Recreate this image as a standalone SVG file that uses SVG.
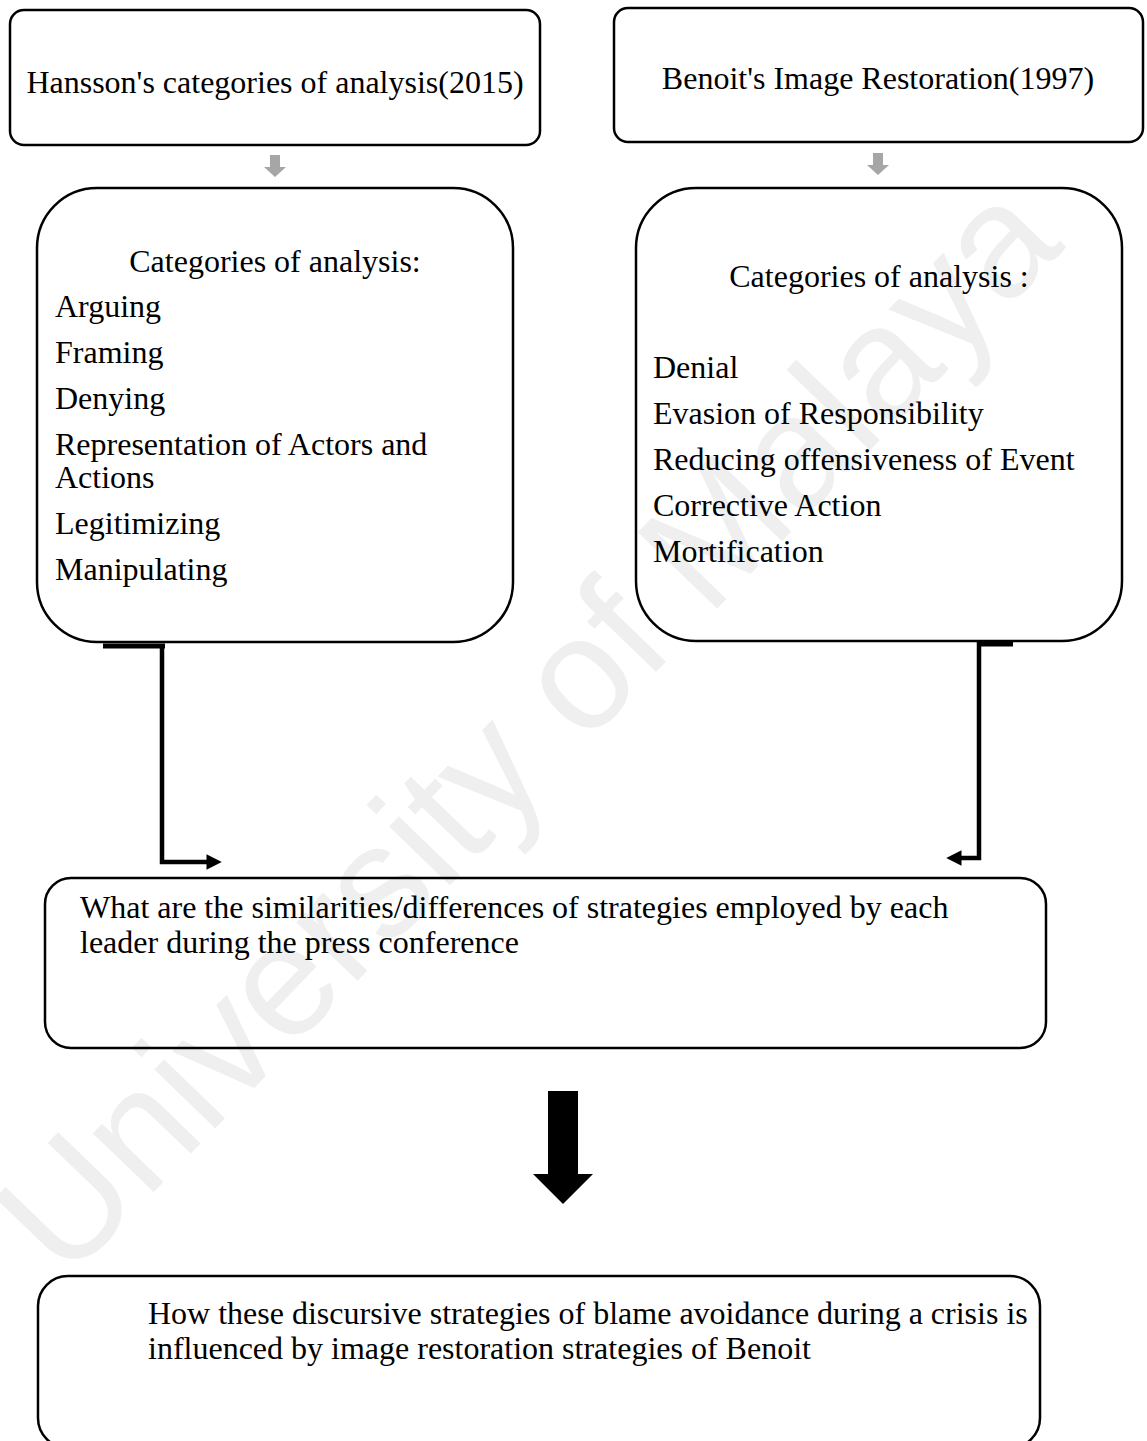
<svg xmlns="http://www.w3.org/2000/svg" width="1147" height="1441" viewBox="0 0 1147 1441">
<style>
.box{fill:none;stroke:#000;stroke-width:2.5}
.t{font-family:"Liberation Serif","Times New Roman",serif;font-size:32px;fill:#000}
.c{text-anchor:middle}
.conn{fill:none;stroke:#000;stroke-width:4.5}
.wm{font-family:"Liberation Sans",Arial,sans-serif;font-size:160px;fill:#efefef;text-anchor:middle}
</style>
<defs>
<marker id="ah" viewBox="0 0 10 10" refX="1" refY="5" markerWidth="3.4" markerHeight="3.4" orient="auto" markerUnits="strokeWidth">
<path d="M0,0 L10,5 L0,10 Z" fill="#000"/>
</marker>
</defs>
<rect width="1147" height="1441" fill="#fff"/>
<text class="wm" transform="translate(566,765) rotate(-46)">University of Malaya</text>

<g id="hansson">
<rect class="box" x="10" y="10" width="530" height="135" rx="14"/>
<text class="t c" x="275" y="93">Hansson's categories of analysis(2015)</text>
</g>
<g id="benoit">
<rect class="box" x="614" y="8" width="529" height="134" rx="14"/>
<text class="t c" x="878" y="89">Benoit's Image Restoration(1997)</text>
</g>
<g id="hansson-cats">
<rect class="box" x="37" y="188" width="476" height="454" rx="60"/>
<text class="t c" x="275" y="272">Categories of analysis:</text>
<text class="t" x="55" y="317">Arguing</text>
<text class="t" x="55" y="363">Framing</text>
<text class="t" x="55" y="409">Denying</text>
<text class="t" x="55" y="455">Representation of Actors and</text>
<text class="t" x="55" y="488">Actions</text>
<text class="t" x="55" y="534">Legitimizing</text>
<text class="t" x="55" y="580">Manipulating</text>
</g>
<g id="benoit-cats">
<rect class="box" x="636" y="188" width="486" height="453" rx="60"/>
<text class="t c" x="879" y="287">Categories of analysis :</text>
<text class="t" x="653" y="378">Denial</text>
<text class="t" x="653" y="424">Evasion of Responsibility</text>
<text class="t" x="653" y="470">Reducing offensiveness of Event</text>
<text class="t" x="653" y="516">Corrective Action</text>
<text class="t" x="653" y="562">Mortification</text>
</g>
<g id="question">
<rect class="box" x="45" y="878" width="1001" height="170" rx="26"/>
<text class="t" x="80" y="918">What are the similarities/differences of strategies employed by each</text>
<text class="t" x="80" y="953">leader during the press conference</text>
</g>
<g id="influence">
<rect class="box" x="38" y="1276" width="1002" height="172" rx="30"/>
<text class="t" x="148" y="1324">How these discursive strategies of blame avoidance during a crisis is</text>
<text class="t" x="148" y="1359">influenced by image restoration strategies of Benoit</text>
</g>

<g id="connectors">
<path d="M270,155 h10 v12 h6 l-11,10 l-11,-10 h6 Z" fill="#a6a6a6"/>
<path d="M873,153 h10 v12 h6 l-11,10 l-11,-10 h6 Z" fill="#a6a6a6"/>
<line x1="103" y1="646" x2="165" y2="646" stroke="#000" stroke-width="5"/>
<path class="conn" d="M162,644 V862 H208" marker-end="url(#ah)"/>
<line x1="977" y1="644" x2="1013" y2="644" stroke="#000" stroke-width="5"/>
<path class="conn" d="M979,642 V858 H960" marker-end="url(#ah)"/>
<path d="M548,1091 H578 V1174 H593 L563,1204 L533,1174 H548 Z" fill="#000"/>
</g>
</svg>
